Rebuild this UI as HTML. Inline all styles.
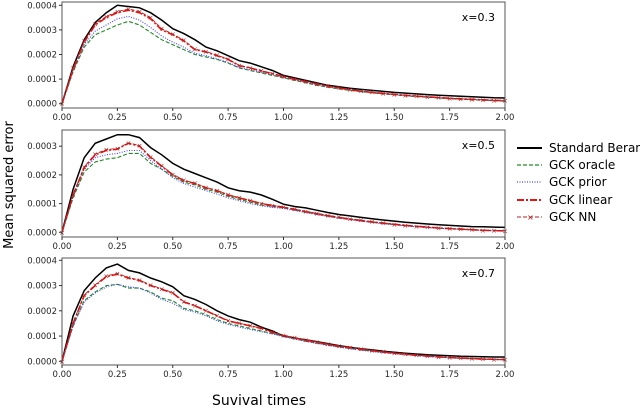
<!DOCTYPE html>
<html><head><meta charset="utf-8"><style>
body{margin:0;background:#fff;}
svg{display:block;font-family:"DejaVu Sans","Liberation Sans",sans-serif;}
</style></head><body>
<svg id="chart" width="640" height="409" viewBox="0 0 640 409" xmlns="http://www.w3.org/2000/svg">
<text transform="translate(13,185) rotate(-90)" text-anchor="middle" font-size="13">Mean squared error</text>
<text x="259" y="405" text-anchor="middle" font-size="14">Suvival times</text>
<g font-size="12">
<g><line x1="517" y1="148" x2="542" y2="148" stroke="#000" stroke-width="2"/><text x="549" y="152">Standard Beran</text></g>
<g><line x1="517" y1="165" x2="542" y2="165" stroke="#228b22" stroke-width="1.2" stroke-dasharray="4,2"/><text x="549" y="169">GCK oracle</text></g>
<g><line x1="517" y1="182" x2="542" y2="182" stroke="#4444ff" stroke-width="1.2" stroke-dasharray="1,1.5"/><text x="549" y="186">GCK prior</text></g>
<g><line x1="517" y1="200" x2="542" y2="200" stroke="#ee1111" stroke-width="2" stroke-dasharray="7,2,2,2"/><text x="549" y="204">GCK linear</text></g>
<g><line x1="517" y1="217" x2="542" y2="217" stroke="#b22222" stroke-width="1" stroke-dasharray="4,2"/><text x="527" y="220" font-size="8" fill="#b22222">×</text><text x="549" y="221">GCK NN</text></g>
</g>
</svg>
<script>
// values in units of 1e-5, t = 0,0.05,...,2.0
const times = Array.from({length:41},(_,i)=>i*0.05);
const xTicks = [0,0.25,0.5,0.75,1.0,1.25,1.5,1.75,2.0];
const xTickLabels = ["0.00","0.25","0.50","0.75","1.00","1.25","1.50","1.75","2.00"];
const yTicks = [0,1,2,3,4];
const yTickLabels = ["0.0000","0.0001","0.0002","0.0003","0.0004"];
const panelLabels = ["x=0.3","x=0.5","x=0.7"];

const p1Beran=[0,15,26,33,37,40,39.5,39,37,34,30.5,28.5,26,23,21.5,19.5,17.5,16.5,15,13.5,11.5,10.5,9.5,8.5,7.5,6.9,6.3,5.8,5.4,5.0,4.6,4.3,4.0,3.7,3.4,3.2,3.0,2.8,2.6,2.4,2.3];
const p1Oracle=[0,13,23,28,30,32,33.5,32,29,26,24,22,20,19,18,16.5,14.5,13.5,12.5,11.5,10.5,9.5,8.5,7.5,6.7,6.0,5.4,4.9,4.4,4.0,3.6,3.2,2.9,2.6,2.3,2.0,1.8,1.6,1.4,1.2,1.0];
const p1Prior=[0,13.5,24,29.5,32,34.5,35.5,34,31,27.5,25,23,20.5,19.5,18.2,16.8,14.8,13.8,12.8,11.8,10.7,9.7,8.7,7.7,6.9,6.2,5.6,5.0,4.5,4.1,3.7,3.3,3.0,2.7,2.4,2.1,1.9,1.7,1.5,1.3,1.1];
const p1Linear=[0,14,25,32,35,37,38,37,34.5,30,28,25.5,22,21,19.5,18,15.5,14.5,13.3,12.2,11,10,9,8,7.1,6.4,5.7,5.1,4.6,4.2,3.8,3.4,3.1,2.8,2.5,2.2,2.0,1.8,1.6,1.4,1.2];
const p1NN=[0,14.5,25.5,32.5,35.5,37.5,38.5,37.5,35,30.5,28.3,25.8,22.2,21.2,19.7,18.1,15.6,14.6,13.4,12.3,11.1,10.1,9.1,8.1,7.2,6.5,5.8,5.2,4.7,4.2,3.8,3.4,3.1,2.8,2.5,2.2,2.0,1.8,1.6,1.4,1.2];

const p2Beran=[0,15,26,31,32.5,34,34,33,29.5,27,24,22,20.5,19,17.5,15.5,14.5,14,13,11.5,9.8,9.0,8.5,7.7,6.9,6.2,5.7,5.2,4.7,4.3,3.9,3.5,3.2,2.9,2.6,2.4,2.2,2.0,1.9,1.8,1.7];
const p2Oracle=[0,12,21,24.5,25.5,26,27.5,27.5,24,22,19.5,17.5,16.5,15,14,12.5,11.5,10.5,9.5,9,8.5,7.8,7,6.3,5.6,5,4.5,4,3.5,3.1,2.7,2.3,2,1.7,1.5,1.3,1.1,0.9,0.7,0.6,0.5];
const p2Prior=[0,12.5,22,26,27,27.5,28.5,28.5,25,22,19,17,15.8,14.5,13.3,12,11,10,9.2,8.7,8.3,7.6,6.9,6.2,5.5,4.9,4.4,3.9,3.4,3.0,2.6,2.2,1.9,1.6,1.4,1.2,1.0,0.8,0.7,0.6,0.5];
const p2Linear=[0,13,22.5,27,28.5,29,31,30,26,23,20,18,17,15.5,14.5,13,12,11,10,9.3,8.7,8.0,7.2,6.5,5.8,5.2,4.6,4.1,3.6,3.2,2.8,2.4,2.1,1.8,1.5,1.3,1.1,0.9,0.7,0.6,0.5];
const p2NN=[0,13.2,22.8,27.3,28.8,29.2,31.2,30.2,26.3,23.2,20.2,18.2,17.1,15.6,14.6,13.1,12.1,11.1,10.1,9.4,8.8,8.1,7.3,6.6,5.9,5.3,4.7,4.2,3.7,3.2,2.8,2.4,2.1,1.8,1.5,1.3,1.1,0.9,0.7,0.6,0.5];

const p3Beran=[0,18,28,33,37,38.5,36,35,33,31.5,29.5,26,24.5,22.5,20,18,16.5,15.5,13.5,12,10,9.2,8.5,7.8,7.0,6.2,5.6,5.0,4.5,4.0,3.6,3.2,2.9,2.6,2.4,2.2,2.0,1.9,1.8,1.7,1.7];
const p3Oracle=[0,14,24,27.5,30,30.5,29,29,27.5,25,24,21,20,18.5,16.5,15,14,13,12,11,10,9,8,7.2,6.4,5.7,5.1,4.5,4,3.5,3.1,2.7,2.3,2,1.7,1.4,1.2,1,0.8,0.7,0.6];
const p3Prior=[0,14,23.5,27,29.5,30.5,29.5,29,27,24.5,23,20.5,19.5,18,16,14.6,13.6,12.6,11.7,10.8,9.8,8.8,7.9,7.1,6.3,5.6,5.0,4.4,3.9,3.4,3.0,2.6,2.2,1.9,1.6,1.4,1.2,1.0,0.8,0.7,0.6];
const p3Linear=[0,15,26,30,33.5,34.5,33,32,30,28.5,27,23.5,22,20,18,16,15,14,13,11.5,10.2,9.3,8.4,7.6,6.7,6.0,5.4,4.8,4.2,3.7,3.2,2.8,2.4,2.1,1.8,1.5,1.3,1.1,0.9,0.8,0.7];
const p3NN=[0,15.3,26.3,30.3,33.8,34.8,33.2,32.2,30.2,28.7,27.2,23.7,22.1,20.1,18.1,16.1,15.1,14.1,13.1,11.6,10.3,9.4,8.5,7.7,6.8,6.1,5.5,4.9,4.3,3.8,3.3,2.9,2.5,2.1,1.8,1.5,1.3,1.1,0.9,0.8,0.7];

const panels=[
 {top:2,bottom:108,zeroY:103.7,unitPx:2.46,tickY:117,series:[p1Beran,p1Oracle,p1Prior,p1Linear,p1NN],maxTick:4},
 {top:130,bottom:237,zeroY:232.3,unitPx:2.87,tickY:246,series:[p2Beran,p2Oracle,p2Prior,p2Linear,p2NN],maxTick:3},
 {top:258,bottom:365,zeroY:361.3,unitPx:2.525,tickY:374,series:[p3Beran,p3Oracle,p3Prior,p3Linear,p3NN],maxTick:4}
];
const seriesNames=["standard-beran","gck-oracle","gck-prior","gck-linear","gck-nn"];
const styles=[
 {stroke:"#000",w:1.5,dash:""},
 {stroke:"#228b22",w:1.1,dash:"4,2"},
 {stroke:"#4444ff",w:1.1,dash:"1,1.5"},
 {stroke:"#ee1111",w:1.6,dash:"7,2,2,2"},
 {stroke:"#b22222",w:0.9,dash:"4,2"}
];
const X0=62,X1=505;
const svg=document.getElementById('chart');
const NS="http://www.w3.org/2000/svg";
function xScale(t){return X0+(t/2)*(X1-X0);}
function mk(tag,attrs){const e=document.createElementNS(NS,tag);for(const k in attrs)e.setAttribute(k,attrs[k]);svg.appendChild(e);return e;}
panels.forEach((p,pi)=>{
  // v in units of 1e-5
  const yScale=v=>p.zeroY-v*p.unitPx;
  const clipId="clip"+pi;
  const cp=mk("clipPath",{id:clipId});
  const cr=document.createElementNS(NS,"rect");
  cr.setAttribute("x",X0);cr.setAttribute("y",p.top);cr.setAttribute("width",X1-X0);cr.setAttribute("height",p.bottom-p.top);
  cp.appendChild(cr);
  p.series.forEach((vals,si)=>{
    const st=styles[si];
    const d=vals.map((v,i)=>(i?"L":"M")+xScale(times[i]).toFixed(1)+","+yScale(v).toFixed(1)).join("");
    const path=mk("path",{d:d,fill:"none",stroke:st.stroke,"stroke-width":st.w,"stroke-dasharray":st.dash,"clip-path":"url(#"+clipId+")"});
    
    
    if(si===4){
      vals.forEach((v,i)=>{
        const m=mk("text",{x:xScale(times[i]),y:yScale(v)+2.5,"text-anchor":"middle","font-size":"7",fill:"#b22222"});
        m.textContent="×";
        
        
      });
    }
  });
  const frame=mk("rect",{x:X0,y:p.top,width:X1-X0,height:p.bottom-p.top,fill:"none",stroke:"#555","stroke-width":"1"});
  
  
  xTicks.forEach((t,i)=>{
    const x=xScale(t);
    mk("line",{x1:x,y1:p.bottom,x2:x,y2:p.bottom+3,stroke:"#333"});
    const lb=mk("text",{x:x,y:p.tickY+3,"text-anchor":"middle","font-size":"8.5",fill:"#262626"});
    lb.textContent=xTickLabels[i];
    
    
  });
  yTicks.forEach((v,i)=>{
    if(v>p.maxTick)return;
    const y=yScale(v*10);
    mk("line",{x1:X0-3,y1:y,x2:X0,y2:y,stroke:"#333"});
    const lb=mk("text",{x:X0-5,y:y+3,"text-anchor":"end","font-size":"8.5",fill:"#262626"});
    lb.textContent=yTickLabels[i];
    
    
  });
  const pl=mk("text",{x:495,y:p.top+19,"text-anchor":"end","font-size":"11",fill:"#000"});
  pl.textContent=panelLabels[pi];
  
  
});
</script>
</body></html>
